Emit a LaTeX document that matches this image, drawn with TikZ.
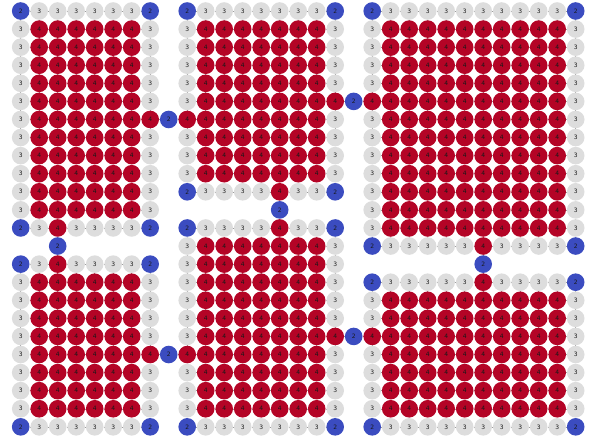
\documentclass[tikz,border=0pt]{standalone}
\usepackage{fontspec}
\setmainfont{DejaVu Sans}
\usetikzlibrary{backgrounds}
\definecolor{gdeg2}{HTML}{3B4CC0}
\definecolor{gdeg3}{HTML}{DDDDDD}
\definecolor{gdeg4}{HTML}{B40426}
\definecolor{gedgeline}{HTML}{9A9A9A}
\tikzset{gnode/.style={circle, minimum size=17.6pt, inner sep=0pt, font=\fontsize{6}{6}\selectfont, text=black!90}}
\tikzset{gedge/.style={draw=gedgeline, line width=0.5pt}}
\newcommand{\markport}[2]{\expandafter\def\csname gport-#1-#2\endcsname{}}
\newcommand{\gridblock}[4]{%
  \foreach \c in {#1,...,#2}{
    \foreach \r in {#3,...,#4}{
      \pgfmathtruncatemacro\gdeg{4-(\c==#1)-(\c==#2)-(\r==#3)-(\r==#4)}
      \ifcsname gport-\c-\r\endcsname \pgfmathtruncatemacro\gdeg{\gdeg+1}\fi
      \node[gnode, fill=gdeg\gdeg] (n-\c-\r) at (\c,\r) {\gdeg};
    }
  }
  \begin{scope}[on background layer]
    \foreach \c in {#1,...,#2}{
      \foreach \r in {#3,...,#4}{
        \pgfmathtruncatemacro\cnext{\c+1}
        \pgfmathtruncatemacro\rnext{\r+1}
        \ifnum\c<#2 \draw[gedge] (n-\c-\r) -- (n-\cnext-\r);\fi
        \ifnum\r<#4 \draw[gedge] (n-\c-\r) -- (n-\c-\rnext);\fi
      }
    }
  \end{scope}
}
\newcommand{\gridlink}[4]{%
  \node[gnode, fill=gdeg2] (n-#1-#2) at (#1,#2) {2};
  \begin{scope}[on background layer]
    \draw[gedge] (#3) -- (n-#1-#2) -- (#4);
  \end{scope}
}
\markport{7}{6}\markport{2}{12}
\markport{9}{6}\markport{17}{5}\markport{14}{10}
\markport{19}{5}\markport{25}{13}
\markport{2}{14}\markport{7}{19}
\markport{14}{12}\markport{9}{19}\markport{17}{18}
\markport{25}{15}\markport{19}{18}
\begin{document}
\begin{tikzpicture}[x=18.5pt, y=-18.08pt]
  \useasboundingbox (-20.7pt,11pt) rectangle (573.3pt,-435pt);

  \gridblock{0}{7}{0}{12}
  \gridblock{9}{17}{0}{10}
  \gridblock{19}{30}{0}{13}
  \gridblock{0}{7}{14}{23}
  \gridblock{9}{17}{12}{23}
  \gridblock{19}{30}{15}{23}

  \gridlink{8}{6}{n-7-6}{n-9-6}
  \gridlink{18}{5}{n-17-5}{n-19-5}
  \gridlink{2}{13}{n-2-12}{n-2-14}
  \gridlink{14}{11}{n-14-10}{n-14-12}
  \gridlink{25}{14}{n-25-13}{n-25-15}
  \gridlink{8}{19}{n-7-19}{n-9-19}
  \gridlink{18}{18}{n-17-18}{n-19-18}
\end{tikzpicture}
\end{document}
